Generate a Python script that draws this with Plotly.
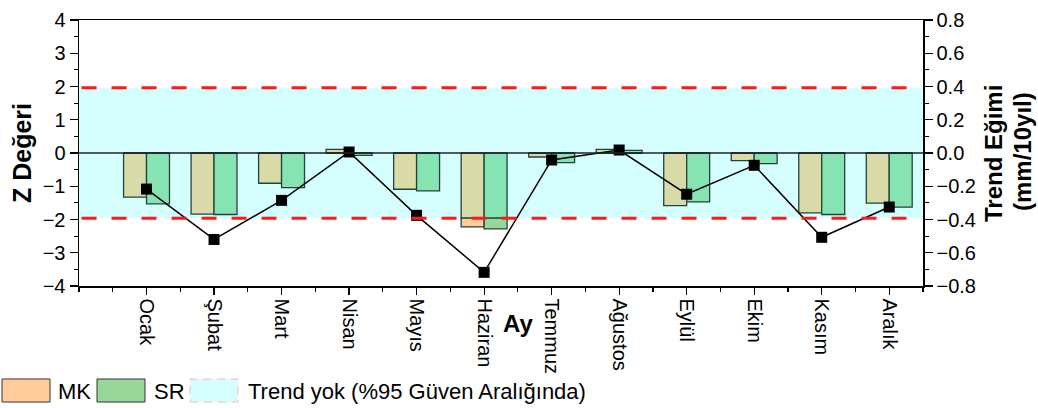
import plotly.graph_objects as go

months = ["Ocak", "Şubat", "Mart", "Nisan", "Mayıs", "Haziran",
          "Temmuz", "Ağustos", "Eylül", "Ekim", "Kasım", "Aralık"]
mk_z = [-1.33, -1.84, -0.91, 0.11, -1.09, -2.22, -0.12, 0.11, -1.58, -0.23, -1.80, -1.51]
sr_z = [-1.53, -1.85, -1.04, -0.07, -1.14, -2.28, -0.29, 0.08, -1.47, -0.32, -1.85, -1.63]
trend_slope = [-0.217, -0.52, -0.285, 0.006, -0.375, -0.718, -0.042, 0.018, -0.248, -0.074, -0.507, -0.325]
z_crit = 1.96
z_ticks = [-4, -3, -2, -1, 0, 1, 2, 3, 4]
slope_ticks = [-0.8, -0.6, -0.4, -0.2, 0.0, 0.2, 0.4, 0.6, 0.8]

FONT = "Liberation Sans, Arial, sans-serif"
xs = list(range(1, len(months) + 1))
BW = 0.34
OUTLINE = "#24423c"

OFF = 0  # body margin removed via post_script
L, R, T, B = 79, 923, 20, 286  # plot area in screenshot pixels


def split(vals):
    inner = [max(-z_crit, min(z_crit, v)) for v in vals]
    outer = [v - i for v, i in zip(vals, inner)]
    base = [i if o != 0 else 0 for i, o in zip(inner, outer)]
    return inner, outer, base


fig = go.Figure()
for vals, off, c_in, c_out in [(mk_z, -BW, "#D8DAA8", "#FFCC99"), (sr_z, 0.0, "#86E3B2", "#99D699")]:
    inner, outer, base = split(vals)
    fig.add_trace(go.Bar(x=xs, y=inner, width=BW, offset=off,
                         marker=dict(color=c_in, line=dict(color=OUTLINE, width=1.3)),
                         showlegend=False, hoverinfo="skip"))
    fig.add_trace(go.Bar(x=xs, y=outer, base=base, width=BW, offset=off,
                         marker=dict(color=c_out, line=dict(color=OUTLINE, width=1.3)),
                         showlegend=False, hoverinfo="skip"))

fig.add_trace(go.Scatter(x=xs, y=trend_slope, yaxis="y2", mode="lines+markers",
                         line=dict(color="black", width=1.5),
                         marker=dict(symbol="square", size=11, color="black"),
                         showlegend=False))

shapes = [
    dict(type="rect", xref="paper", yref="y", x0=0, x1=1, y0=-z_crit, y1=z_crit,
         fillcolor="#D5FFFF", line=dict(width=0), layer="below"),
    dict(type="line", xref="paper", yref="y", x0=0, x1=1, y0=0, y1=0,
         line=dict(color="#222222", width=1.3), layer="above"),
]
for yv in (z_crit, -z_crit):
    shapes.append(dict(type="line", xref="paper", yref="y", x0=0.003, x1=0.99, y0=yv, y1=yv,
                       line=dict(color="#FF1A1A", width=3, dash="15px,15px"), layer="above"))


def px(xp):
    return (xp - L) / float(R - L)


def py(yp):
    return (B - yp) / float(B - T)


shapes += [
    dict(type="rect", xref="paper", yref="paper", x0=px(2), x1=px(50), y0=py(402), y1=py(379),
         fillcolor="#FFCC99", line=dict(color="#333333", width=1)),
    dict(type="rect", xref="paper", yref="paper", x0=px(97), x1=px(145), y0=py(402), y1=py(379),
         fillcolor="#99D699", line=dict(color="#333333", width=1)),
    dict(type="rect", xref="paper", yref="paper", x0=px(190), x1=px(238), y0=py(402), y1=py(379),
         fillcolor="#D5FFFF", line=dict(color="#F5B8B8", width=1, dash="8px,6px")),
]


def ann(text, x, y, size, xanchor="center", angle=0, family=FONT):
    return dict(text=text, xref="paper", yref="paper", x=px(x), y=py(y), textangle=angle,
                xanchor=xanchor, yanchor="middle", showarrow=False,
                font=dict(family=family, size=size, color="black"))


annotations = [
    ann("<b>Z Değeri</b>", 22, 153, 25, angle=-90),
    ann("<b>Trend Eğimi</b>", 993, 153, 24, angle=-90),
    ann("<b>(mm/10yıl)</b>", 1022, 152, 24, angle=-90),
    ann("<b>Ay</b>", 518, 323, 24),
    ann("MK", 56, 391, 22, xanchor="left"),
    ann("SR", 152, 391, 22, xanchor="left"),
    ann("Trend yok (%95 Güven Aralığında)", 246, 391, 22, xanchor="left"),
]

fig.update_layout(
    width=1038, height=408,
    margin=dict(l=L - OFF, r=1038 - (R - OFF), t=T - OFF, b=408 - (B - OFF), autoexpand=False),
    paper_bgcolor="white", plot_bgcolor="white",
    barmode="overlay",
    font=dict(family=FONT, color="black"),
    shapes=shapes, annotations=annotations,
    xaxis=dict(range=[0, len(months) + 0.5], tickvals=xs, ticktext=months, tickangle=90,
               ticks="outside", ticklen=7, tickwidth=1.2, tickcolor="black",
               minor=dict(dtick=0.5, tick0=0, ticks="outside", ticklen=4, tickcolor="black"),
               showline=True, linecolor="black", linewidth=1.5, mirror=True,
               showgrid=False, zeroline=False, tickfont=dict(family=FONT, size=20)),
    yaxis=dict(range=[-4, 4], tickvals=z_ticks, ticks="outside", ticklen=8, tickwidth=1.2, tickcolor="black",
               minor=dict(dtick=0.5, ticks="outside", ticklen=4, tickcolor="black"),
               showline=True, linecolor="black", linewidth=1.5,
               showgrid=False, zeroline=False, tickfont=dict(family=FONT, size=20)),
    yaxis2=dict(range=[-0.8, 0.8], tickvals=slope_ticks, tickformat=".1f", overlaying="y", side="right",
                ticks="outside", ticklen=8, tickwidth=1.2, tickcolor="black",
                minor=dict(dtick=0.1, ticks="outside", ticklen=4, tickcolor="black"),
                showline=True, linecolor="black", linewidth=1.5,
                showgrid=False, zeroline=False, tickfont=dict(family=FONT, size=20)),
)

fig.write_html("out.html", config={"displayModeBar": False, "staticPlot": True},
               post_script="document.body.style.margin='0';document.body.style.overflow='hidden';")
